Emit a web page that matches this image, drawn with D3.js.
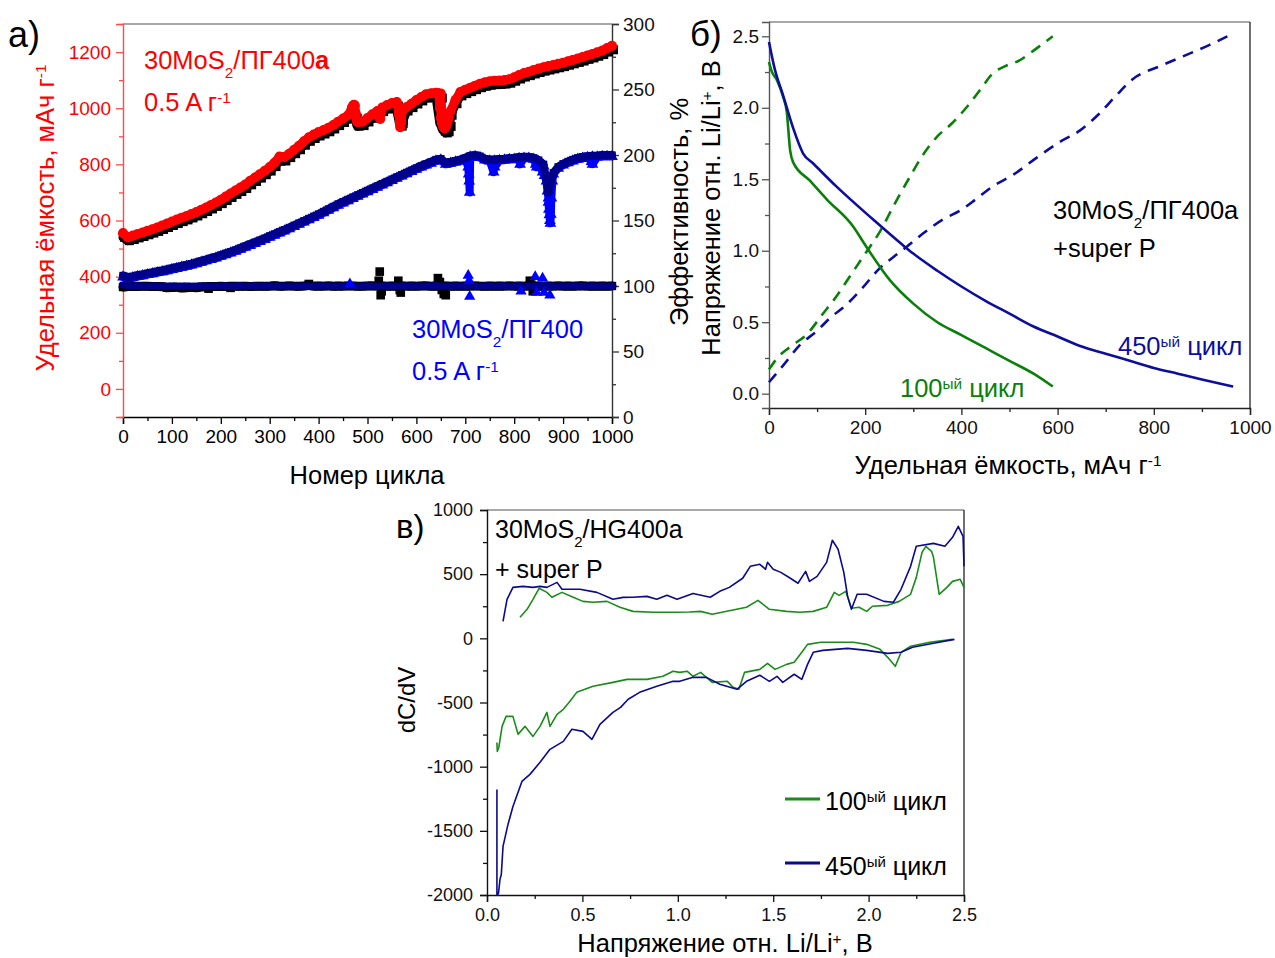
<!DOCTYPE html>
<html>
<head>
<meta charset="utf-8">
<script src="https://cdn.jsdelivr.net/npm/d3@7"></script>
<style>
  body { margin: 0; background: #fff; }
  svg { display: block; }
</style>
</head>
<body>
<svg id="chart" width="1275" height="958"></svg>
<script>
// ---------- Panel а: cycling of 30MoS2/ПГ400a and 30MoS2/ПГ400 ----------
const cycles = [
  0, 10, 20, 30, 40, 50, 60, 70, 80, 90,
  100, 110, 120, 130, 140, 150, 160, 170, 180, 190,
  200, 210, 220, 230, 240, 250, 260, 270, 280, 290,
  300, 310, 320, 330, 340, 350, 360, 370, 380, 390,
  400, 410, 420, 430, 440, 450, 460, 470, 480, 490,
  500, 510, 520, 530, 540, 550, 560, 570, 580, 590,
  600, 610, 620, 630, 640, 650, 660, 670, 680, 690,
  700, 710, 720, 730, 740, 750, 760, 770, 780, 790,
  800, 810, 820, 830, 840, 850, 860, 870, 880, 890,
  900, 910, 920, 930, 940, 950, 960, 970, 980, 990,
  1000
];
// 30MoS2/ПГ400a, discharge capacity (red circles), mAh/g
const capA_dis = [
  555, 540, 546, 552, 557, 563, 569, 575, 582, 589,
  596, 603, 610, 616, 623, 630, 638, 646, 655, 664,
  674, 685, 696, 707, 717, 728, 741, 753, 765, 777,
  790, 806, 828, 826, 838, 852, 866, 882, 896, 906,
  915, 922, 930, 940, 952, 963, 975, 1008, 950, 952,
  965, 978, 990, 1002, 1011, 1018, 1022, 985, 1004, 1016,
  1029, 1040, 1050, 1053, 1055, 1052, 935, 990, 1030, 1058,
  1066, 1073, 1080, 1087, 1092, 1096, 1098, 1099, 1100, 1103,
  1110, 1118, 1125, 1130, 1136, 1141, 1146, 1150, 1154, 1158,
  1162, 1167, 1172, 1177, 1182, 1188, 1193, 1199, 1205, 1214,
  1222
];
// 30MoS2/ПГ400a, charge capacity (black squares)
const capA_ch = [
  540, 528, 532, 538, 543, 549, 555, 561, 568, 575,
  582, 589, 596, 602, 609, 616, 624, 632, 641, 650,
  660, 671, 682, 693, 703, 714, 727, 739, 751, 763,
  776, 792, 812, 812, 824, 838, 852, 868, 882, 892,
  901, 908, 916, 926, 938, 949, 961, 992, 936, 938,
  951, 964, 976, 988, 997, 1004, 1008, 955, 990, 1002,
  1015, 1026, 1036, 1039, 1041, 1036, 918, 975, 1016, 1044,
  1052, 1059, 1066, 1073, 1078, 1082, 1084, 1085, 1086, 1089,
  1096, 1104, 1111, 1116, 1122, 1127, 1132, 1136, 1140, 1144,
  1148, 1153, 1158, 1163, 1168, 1174, 1179, 1185, 1191, 1200,
  1208
];
// 30MoS2/ПГ400, discharge capacity (blue triangles)
const capB_dis = [
  398, 392, 396, 400, 403, 407, 410, 414, 417, 421,
  425, 429, 433, 437, 441, 446, 451, 456, 461, 466,
  472, 478, 484, 490, 497, 504, 511, 518, 525, 532,
  540, 547, 555, 562, 570, 578, 586, 594, 602, 610,
  618, 627, 636, 645, 654, 662, 670, 678, 686, 694,
  702, 710, 718, 726, 734, 742, 750, 758, 766, 774,
  782, 790, 797, 804, 812, 815, 800, 804, 808, 812,
  818, 826, 828, 824, 815, 812, 812, 814, 815, 817,
  818, 821, 822, 822, 818, 810, 795, 680, 765, 786,
  797, 805, 812, 818, 822, 824, 826, 826, 828, 828,
  828
];
// 30MoS2/ПГ400, charge capacity (navy squares)
const capB_ch = [
  404, 398, 401, 405, 408, 412, 415, 419, 422, 426,
  430, 434, 438, 442, 446, 451, 456, 461, 466, 471,
  477, 483, 489, 495, 502, 509, 516, 523, 530, 537,
  545, 552, 560, 567, 575, 583, 591, 599, 607, 615,
  623, 632, 641, 650, 659, 667, 675, 683, 691, 699,
  707, 715, 723, 731, 739, 747, 755, 763, 771, 779,
  787, 795, 802, 809, 817, 820, 806, 809, 813, 817,
  823, 831, 833, 829, 820, 817, 817, 819, 820, 822,
  823, 826, 827, 827, 823, 815, 800, 700, 770, 791,
  802, 810, 817, 823, 827, 829, 831, 831, 833, 833,
  833
];
// Coulombic efficiency, % (right axis)
const effA = [
  99.2, 99.6, 99.8, 99.7, 99.9, 99.8, 99.6, 99.7, 99.5, 98.6,
  98.8, 99.2, 98.5, 98.7, 99.0, 98.6, 99.3, 99.5, 99.7, 99.6,
  99.8, 99.7, 99.9, 99.8, 99.8, 99.9, 99.7, 99.8, 99.9, 99.8,
  99.9, 100.2, 99.8, 99.9, 100.1, 99.9, 99.8, 100.0, 100.6, 99.9,
  100.0, 99.9, 100.1, 99.8, 100.0, 99.9, 100.1, 100.0, 99.8, 99.9,
  100.0, 100.1, 99.9, 100.0, 99.8, 100.0, 99.9, 100.1, 99.9, 100.0,
  99.9, 100.0, 100.1, 99.8, 100.0, 99.9, 100.0, 99.8, 100.0, 99.9,
  100.0, 99.9, 100.1, 99.9, 99.8, 100.0, 99.9, 100.0, 99.9, 100.1,
  99.9, 100.0, 99.8, 100.2, 99.9, 100.0, 99.9, 100.0, 99.9, 100.1,
  99.9, 100.0, 99.9, 100.0, 100.1, 99.9, 100.0, 99.9, 100.0, 99.9,
  100.0
];
const effB = [
  100.8, 100.3, 100.2, 100.1, 100.2, 100.0, 100.1, 100.2, 100.0, 100.1,
  100.2, 100.0, 100.1, 100.2, 100.0, 100.1, 100.2, 100.0, 100.1, 100.0,
  100.1, 100.2, 100.0, 100.1, 100.3, 100.0, 100.1, 100.2, 100.0, 100.1,
  100.2, 100.0, 100.1, 100.2, 100.0, 100.1, 100.0, 100.2, 100.1, 100.0,
  100.1, 100.2, 100.0, 100.1, 100.0, 100.2, 100.1, 100.4, 100.0, 100.1,
  100.2, 100.0, 100.1, 100.0, 100.2, 100.1, 100.0, 100.1, 100.2, 100.0,
  100.1, 100.0, 100.2, 100.1, 100.3, 100.0, 100.1, 100.0, 100.2, 100.1,
  100.0, 100.6, 100.1, 100.0, 100.2, 100.1, 100.0, 100.1, 100.2, 100.0,
  100.1, 100.3, 100.0, 100.1, 100.2, 100.4, 100.5, 100.2, 100.1, 100.0,
  100.1, 100.0, 100.2, 100.1, 100.0, 100.1, 100.2, 100.0, 100.1, 100.0,
  100.1
];
// Scattered points around the capacity drops, [cycle, value]
const capA_disExtra = [[466,990],[468,1002],[472,1012],[474,1010],[476,982],[478,955],
  [524,968],[526,962],[528,985],[562,1010],[564,980],[566,948],[567,932],[569,950],
  [644,1054],[646,1045],[648,1000],[650,965],[652,948],[654,938],[656,932],[658,928],
  [662,940],[664,955],[666,968]];
const capA_chExtra = [[476,965],[478,940],[560,990],[562,975],[564,958],[566,942],
  [568,936],[570,945],[648,945],[652,928],[656,918],[660,912],[664,916],[668,935]];
const capB_disExtra = [[706,790],[707,765],[708,740],[709,700],[758,772],[760,790],
  [812,800],[844,800],[846,790],[858,772],[862,760],[866,740],[868,705],[870,665],
  [871,640],[872,620],[873,600],[874,590],[875,622],[876,680],[878,740],[958,810],[960,800]];
const effA_extra = [[175,98],[220,98.6],[380,101.5],[523,104],[525,111],[527,93],[529,96],
  [563,104],[566,97],[568,95],[644,106],[648,103],[652,97],[656,94],[660,93],
  [832,104],[835,101],[838,96]];
const effB_extra = [[464,101.5],[706,108],[708,104],[709,92],[814,96],[843,107],
  [846,95],[858,106],[861,95],[873,93]];

const cycleTicks = [0, 100, 200, 300, 400, 500, 600, 700, 800, 900, 1000];
const capTicks = [0, 200, 400, 600, 800, 1000, 1200];
const effTicks = [0, 50, 100, 150, 200, 250, 300];

// ---------- Panel б: charge/discharge profiles ----------
const dis100 = [[0,2.32],[5,2.26],[17,2.19],[29,2.08],[37,1.97],[44,1.70],[50,1.62],
  [85,1.49],[120,1.36],[175,1.17],[200,1.04],[250,0.80],[300,0.63],[350,0.50],
  [400,0.41],[450,0.32],[500,0.23],[550,0.14],[590,0.05]];
const ch100 = [[0,0.17],[20,0.26],[45,0.33],[80,0.42],[110,0.55],[140,0.68],[170,0.83],
  [200,0.98],[230,1.13],[260,1.32],[290,1.50],[320,1.67],[350,1.80],[380,1.89],
  [410,2.00],[440,2.13],[465,2.24],[490,2.29],[520,2.33],[550,2.40],[570,2.45],[590,2.50]];
const dis450 = [[0,2.46],[12,2.27],[29,2.09],[50,1.86],[71,1.68],[92,1.61],[140,1.45],
  [216,1.22],[278,1.04],[300,0.98],[350,0.86],[400,0.75],[450,0.65],[500,0.56],
  [550,0.47],[600,0.40],[650,0.33],[700,0.28],[750,0.23],[800,0.18],[850,0.14],
  [900,0.10],[965,0.05]];
const ch450 = [[0,0.08],[30,0.20],[64,0.34],[100,0.44],[127,0.53],[160,0.62],[189,0.72],
  [231,0.88],[260,0.96],[287,1.03],[320,1.12],[362,1.22],[397,1.28],[430,1.36],
  [465,1.45],[507,1.53],[556,1.65],[604,1.76],[646,1.84],[687,1.96],[723,2.09],
  [756,2.20],[812,2.29],[868,2.37],[916,2.44],[953,2.50]];
const capProfileTicks = [0, 200, 400, 600, 800, 1000];
const voltTicks = [0, 0.5, 1.0, 1.5, 2.0, 2.5];

// ---------- Panel в: differential capacity ----------
const dqdv100_up = [[0.173,164],[0.21,226],[0.241,304],[0.273,390],[0.314,358],[0.34,320],
  [0.393,358],[0.452,320],[0.503,288],[0.556,281],[0.629,288],[0.697,242],[0.765,210],
  [0.87,203],[0.996,203],[1.06,205],[1.12,210],[1.18,187],[1.27,215],[1.36,242],
  [1.42,296],[1.48,226],[1.57,210],[1.64,203],[1.71,210],[1.78,242],[1.82,358],
  [1.845,335],[1.88,366],[1.91,234],[1.95,242],[1.99,210],[2.02,250],[2.10,257],
  [2.16,288],[2.22,343],[2.25,475],[2.28,670],[2.30,717],[2.33,678],[2.34,631],
  [2.37,343],[2.41,397],[2.44,444],[2.48,460],[2.50,397]];
const dqdv450_up = [[0.084,132],[0.105,304],[0.136,397],[0.189,405],[0.241,397],[0.278,405],
  [0.314,397],[0.367,436],[0.393,382],[0.487,382],[0.576,358],[0.66,304],[0.713,319],
  [0.765,320],[0.838,327],[0.89,304],[0.943,335],[0.996,304],[1.08,350],[1.17,320],
  [1.22,366],[1.27,397],[1.34,468],[1.38,561],[1.43,577],[1.46,538],[1.47,592],
  [1.50,538],[1.54,514],[1.59,468],[1.63,429],[1.67,522],[1.69,444],[1.73,483],
  [1.78,592],[1.81,764],[1.84,694],[1.87,514],[1.89,327],[1.91,226],[1.94,343],
  [1.99,343],[2.08,288],[2.13,281],[2.17,382],[2.22,561],[2.25,717],[2.34,740],
  [2.40,717],[2.44,787],[2.47,873],[2.495,795],[2.50,561]];
const dqdv100_down = [[0.052,-811],[0.054,-881],[0.062,-850],[0.079,-686],[0.10,-608],
  [0.136,-608],[0.163,-748],[0.199,-686],[0.241,-764],[0.278,-686],[0.314,-577],
  [0.33,-686],[0.367,-592],[0.40,-553],[0.435,-491],[0.47,-421],[0.556,-374],
  [0.66,-343],[0.734,-320],[0.838,-320],[0.922,-296],[0.975,-257],[1.01,-265],
  [1.05,-257],[1.08,-296],[1.12,-265],[1.18,-343],[1.26,-335],[1.29,-382],[1.32,-397],
  [1.35,-265],[1.43,-242],[1.47,-195],[1.51,-242],[1.57,-203],[1.61,-187],[1.65,-109],
  [1.68,-47],[1.75,-31],[1.92,-31],[1.99,-47],[2.06,-86],[2.10,-148],[2.14,-218],
  [2.17,-109],[2.22,-62],[2.32,-31],[2.44,-8]];
const dqdv450_down = [[0.052,-1177],[0.052,-2000],[0.060,-1990],[0.068,-1878],[0.075,-1840],
  [0.084,-1621],[0.11,-1450],[0.136,-1310],[0.183,-1115],[0.225,-1060],[0.278,-966],
  [0.33,-865],[0.40,-803],[0.445,-709],[0.503,-725],[0.55,-787],[0.592,-670],
  [0.66,-577],[0.70,-538],[0.74,-475],[0.80,-421],[0.89,-374],[0.975,-335],[1.01,-335],
  [1.08,-304],[1.15,-304],[1.22,-358],[1.31,-397],[1.36,-335],[1.43,-288],[1.48,-335],
  [1.52,-296],[1.55,-343],[1.61,-280],[1.65,-320],[1.68,-203],[1.71,-109],[1.76,-94],
  [1.89,-78],[1.99,-94],[2.10,-117],[2.17,-109],[2.23,-70],[2.34,-39],[2.45,-8]];
const dqdvVoltTicks = [0, 0.5, 1.0, 1.5, 2.0, 2.5];
const dqdvTicks = [-2000, -1500, -1000, -500, 0, 500, 1000];

// ---------- drawing helpers ----------
const FONT = '"Liberation Sans", Arial, sans-serif';
const RED = "#ff0000", BLUE = "#0000ff", NAVY = "#00008b";
const TITLE = 25.5, LABEL = 25.5;
const svg = d3.select("#chart");
const intFmt = d => String(d);              // plain hyphen for negatives
const oneDec = d => d.toFixed(1);

function styleAxis(g, color, fontSize, lineColor) {
  g.select("path.domain").attr("stroke", lineColor || color).attr("stroke-width", 1.4);
  g.selectAll(".tick line").attr("stroke", lineColor || color).attr("stroke-width", 1.3);
  g.selectAll(".tick text").attr("fill", color).attr("font-size", fontSize)
    .attr("font-family", FONT);
}

// axisFn: d3.axisBottom / axisLeft / axisRight; minor ticks drawn first, then labelled ones
function drawAxis(axisFn, scale, transform, ticks, minor, fmt, color, size, pad, lineColor) {
  const gm = svg.append("g").attr("transform", transform)
    .call(axisFn(scale).tickValues(minor).tickSize(4).tickFormat(""));
  styleAxis(gm, color, size, lineColor);
  gm.select("path.domain").remove();
  const g = svg.append("g").attr("transform", transform)
    .call(axisFn(scale).tickValues(ticks).tickSize(7).tickPadding(pad).tickFormat(fmt));
  styleAxis(g, color, size, lineColor);
  return g;
}

function rich(x, y, parts, opt = {}) {
  const size = opt.size || LABEL;
  const t = svg.append("text").attr("x", x).attr("y", y)
    .attr("font-family", FONT).attr("font-size", size)
    .attr("fill", opt.fill || "#000").attr("text-anchor", opt.anchor || "start");
  if (opt.rotate !== undefined) t.attr("transform", `rotate(${opt.rotate},${x},${y})`);
  parts.forEach(p => {
    const s = t.append("tspan").text(p.t);
    if (p.sup) s.attr("baseline-shift", "super").attr("font-size", size * 0.6);
    if (p.sub) s.attr("baseline-shift", "sub").attr("font-size", size * 0.6);
    if (p.bold) s.attr("font-weight", "bold");
  });
  return t;
}

function hline(x1, x2, y, color, w) {
  svg.append("line").attr("x1", x1).attr("x2", x2).attr("y1", y).attr("y2", y)
    .attr("stroke", color).attr("stroke-width", w || 1.3);
}
function vline(x, y1, y2, color, w) {
  svg.append("line").attr("x1", x).attr("x2", x).attr("y1", y1).attr("y2", y2)
    .attr("stroke", color).attr("stroke-width", w || 1.3);
}
function panelLetter(x, y, s, size) {
  svg.append("text").attr("x", x).attr("y", y).attr("font-family", FONT)
    .attr("font-size", size).text(s);
}

// ======================= Panel а =======================
const xA = d3.scaleLinear().domain([0, 1000]).range([123, 612]);
const yCap = d3.scaleLinear().domain([-100, 1300]).range([417, 24]);
const yEff = d3.scaleLinear().domain([0, 300]).range([417, 24]);

hline(123, 612, 24, "#8a8a8a");
drawAxis(d3.axisBottom, xA, "translate(0,417)", cycleTicks,
  d3.range(50, 1000, 100), intFmt, "#000", 19, 6);
drawAxis(d3.axisLeft, yCap, "translate(123,0)", capTicks,
  [-100, 100, 300, 500, 700, 900, 1100, 1300], intFmt, RED, 19, 5, "#ff4a4a");
drawAxis(d3.axisRight, yEff, "translate(612,0)", effTicks,
  [25, 75, 125, 175, 225, 275], intFmt, "#111", 19, 4, "#333");

function seriesPoints(vals, extra) {
  return cycles.map((c, i) => [c, vals[i]]).concat(extra || [])
    .sort((a, b) => a[0] - b[0]);
}
function band(points, yScale, color, width) {
  svg.append("path").datum(points)
    .attr("d", d3.line().x(d => xA(d[0])).y(d => yScale(d[1])))
    .attr("fill", "none").attr("stroke", color).attr("stroke-width", width)
    .attr("stroke-linejoin", "round").attr("stroke-linecap", "round");
}
function markers(points, yScale, type, color, size, dx) {
  svg.append("g").selectAll("path").data(points).join("path")
    .attr("transform", d => `translate(${xA(d[0]) + (dx || 0)},${yScale(d[1])})`)
    .attr("d", d3.symbol().type(type).size(size))
    .attr("fill", color);
}

const ptsAch = seriesPoints(capA_ch, capA_chExtra);
const ptsAdis = seriesPoints(capA_dis, capA_disExtra);
const ptsBdis = seriesPoints(capB_dis, capB_disExtra);
const ptsBch = seriesPoints(capB_ch);
const ptsEffA = seriesPoints(effA);
const ptsEffB = seriesPoints(effB);

// capacity of 30MoS2/ПГ400a: charge under discharge
band(ptsAch, yCap, "#000", 9);
markers(ptsAch, yCap, d3.symbolSquare, "#000", 80, 1.5);
band(ptsAdis, yCap, RED, 9);
markers(ptsAdis, yCap, d3.symbolCircle, RED, 80);

// capacity of 30MoS2/ПГ400
band(ptsBdis, yCap, BLUE, 8);
markers(ptsBdis, yCap, d3.symbolTriangle, BLUE, 60);
band(ptsBch, yCap, NAVY, 8);
markers(ptsBch, yCap, d3.symbolSquare, NAVY, 55);

// coulombic efficiency
band(ptsEffA, yEff, "#000", 9);
markers(ptsEffA, yEff, d3.symbolSquare, "#000", 70);
markers(effA_extra, yEff, d3.symbolSquare, "#000", 75);
band(ptsEffB, yEff, NAVY, 6);
markers(ptsEffB, yEff, d3.symbolSquare, NAVY, 40);
markers(effB_extra, yEff, d3.symbolTriangle, BLUE, 55);

// labels
panelLetter(8, 47, "а)", 36);
rich(144, 69, [{t: "30MoS"}, {t: "2", sub: true}, {t: "/ПГ400"}, {t: "a", bold: true}],
  {fill: RED});
rich(144, 111, [{t: "0.5 A г"}, {t: "-1", sup: true}], {fill: RED});
rich(412, 338, [{t: "30MoS"}, {t: "2", sub: true}, {t: "/ПГ400"}], {fill: BLUE});
rich(412, 380, [{t: "0.5 A г"}, {t: "-1", sup: true}], {fill: BLUE});
rich(367, 484, [{t: "Номер цикла"}], {anchor: "middle", size: TITLE});
rich(54, 218, [{t: "Удельная ёмкость, мАч г"}, {t: "-1", sup: true}],
  {anchor: "middle", size: TITLE, fill: RED, rotate: -90});
rich(688, 212, [{t: "Эффективность, %"}], {anchor: "middle", size: TITLE, rotate: -90});

// ======================= Panel б =======================
const xB = d3.scaleLinear().domain([0, 1000]).range([769, 1250]);
const yB = d3.scaleLinear().domain([-0.1, 2.6]).range([408, 22]);

hline(769, 1250, 22, "#8a8a8a");
vline(1250, 22, 408, "#222");
drawAxis(d3.axisBottom, xB, "translate(0,408)", capProfileTicks,
  d3.range(100, 1000, 200), intFmt, "#111", 19, 6, "#222");
drawAxis(d3.axisLeft, yB, "translate(769,0)", voltTicks,
  [0.25, 0.75, 1.25, 1.75, 2.25], oneDec, "#111", 19, 3, "#555");

const lineB = d3.line().x(d => xB(d[0])).y(d => yB(d[1])).curve(d3.curveMonotoneX);
function curveB(data, color, dashed) {
  const p = svg.append("path").datum(data).attr("d", lineB)
    .attr("fill", "none").attr("stroke", color).attr("stroke-width", 2.6)
    .attr("stroke-linejoin", "round");
  if (dashed) p.attr("stroke-dasharray", "11,8");
}
curveB(ch100, "#0a800a", true);
curveB(ch450, "#0d0d9e", true);
curveB(dis100, "#0a800a", false);
curveB(dis450, "#0d0d9e", false);

panelLetter(690, 46, "б)", 35);
rich(1053, 219, [{t: "30MoS"}, {t: "2", sub: true}, {t: "/ПГ400a"}]);
rich(1053, 257, [{t: "+super P"}]);
rich(1118, 355, [{t: "450"}, {t: "ый", sup: true}, {t: " цикл"}], {fill: "#0d0d9e"});
rich(900, 397, [{t: "100"}, {t: "ый", sup: true}, {t: " цикл"}], {fill: "#0a800a"});
rich(1008, 474, [{t: "Удельная ёмкость, мАч г"}, {t: "-1", sup: true}],
  {anchor: "middle", size: TITLE});
rich(720, 208, [{t: "Напряжение отн. Li/Li"}, {t: "+", sup: true}, {t: ", В"}],
  {anchor: "middle", size: TITLE, rotate: -90});

// ======================= Panel в =======================
const xC = d3.scaleLinear().domain([0, 2.5]).range([487, 964]);
const yC = d3.scaleLinear().domain([-2000, 1000]).range([895, 510]);

hline(487, 964, 510, "#8a8a8a");
vline(964, 510, 895, "#222");
drawAxis(d3.axisBottom, xC, "translate(0,895)", dqdvVoltTicks,
  [0.25, 0.75, 1.25, 1.75, 2.25], oneDec, "#111", 18, 6, "#111");
drawAxis(d3.axisLeft, yC, "translate(487,0)", dqdvTicks,
  [-1750, -1250, -750, -250, 250, 750], intFmt, "#111", 18, 7, "#111");

const lineC = d3.line().x(d => xC(d[0])).y(d => yC(d[1]));
function curveC(data, color) {
  svg.append("path").datum(data).attr("d", lineC)
    .attr("fill", "none").attr("stroke", color).attr("stroke-width", 1.6)
    .attr("stroke-linejoin", "round");
}
curveC(dqdv100_up, "#1a8c1a");
curveC(dqdv100_down, "#1a8c1a");
curveC(dqdv450_up, "#0b0b8a");
curveC(dqdv450_down, "#0b0b8a");

panelLetter(396, 538, "в)", 33);
rich(495, 538, [{t: "30MoS"}, {t: "2", sub: true}, {t: "/HG400a"}], {size: 25});
rich(495, 578, [{t: "+ super P"}], {size: 25});
rich(415, 700, [{t: "dC/dV"}], {anchor: "middle", size: 24, rotate: -90});
rich(725, 952, [{t: "Напряжение отн. Li/Li"}, {t: "+", sup: true}, {t: ", В"}],
  {anchor: "middle", size: TITLE});

// legend
hline(785, 820, 799, "#1a8c1a", 3.2);
hline(785, 820, 863, "#0b0b8a", 3.2);
rich(825, 810, [{t: "100"}, {t: "ый", sup: true}, {t: " цикл"}], {size: 25});
rich(825, 875, [{t: "450"}, {t: "ый", sup: true}, {t: " цикл"}], {size: 25});
</script>
</body>
</html>
